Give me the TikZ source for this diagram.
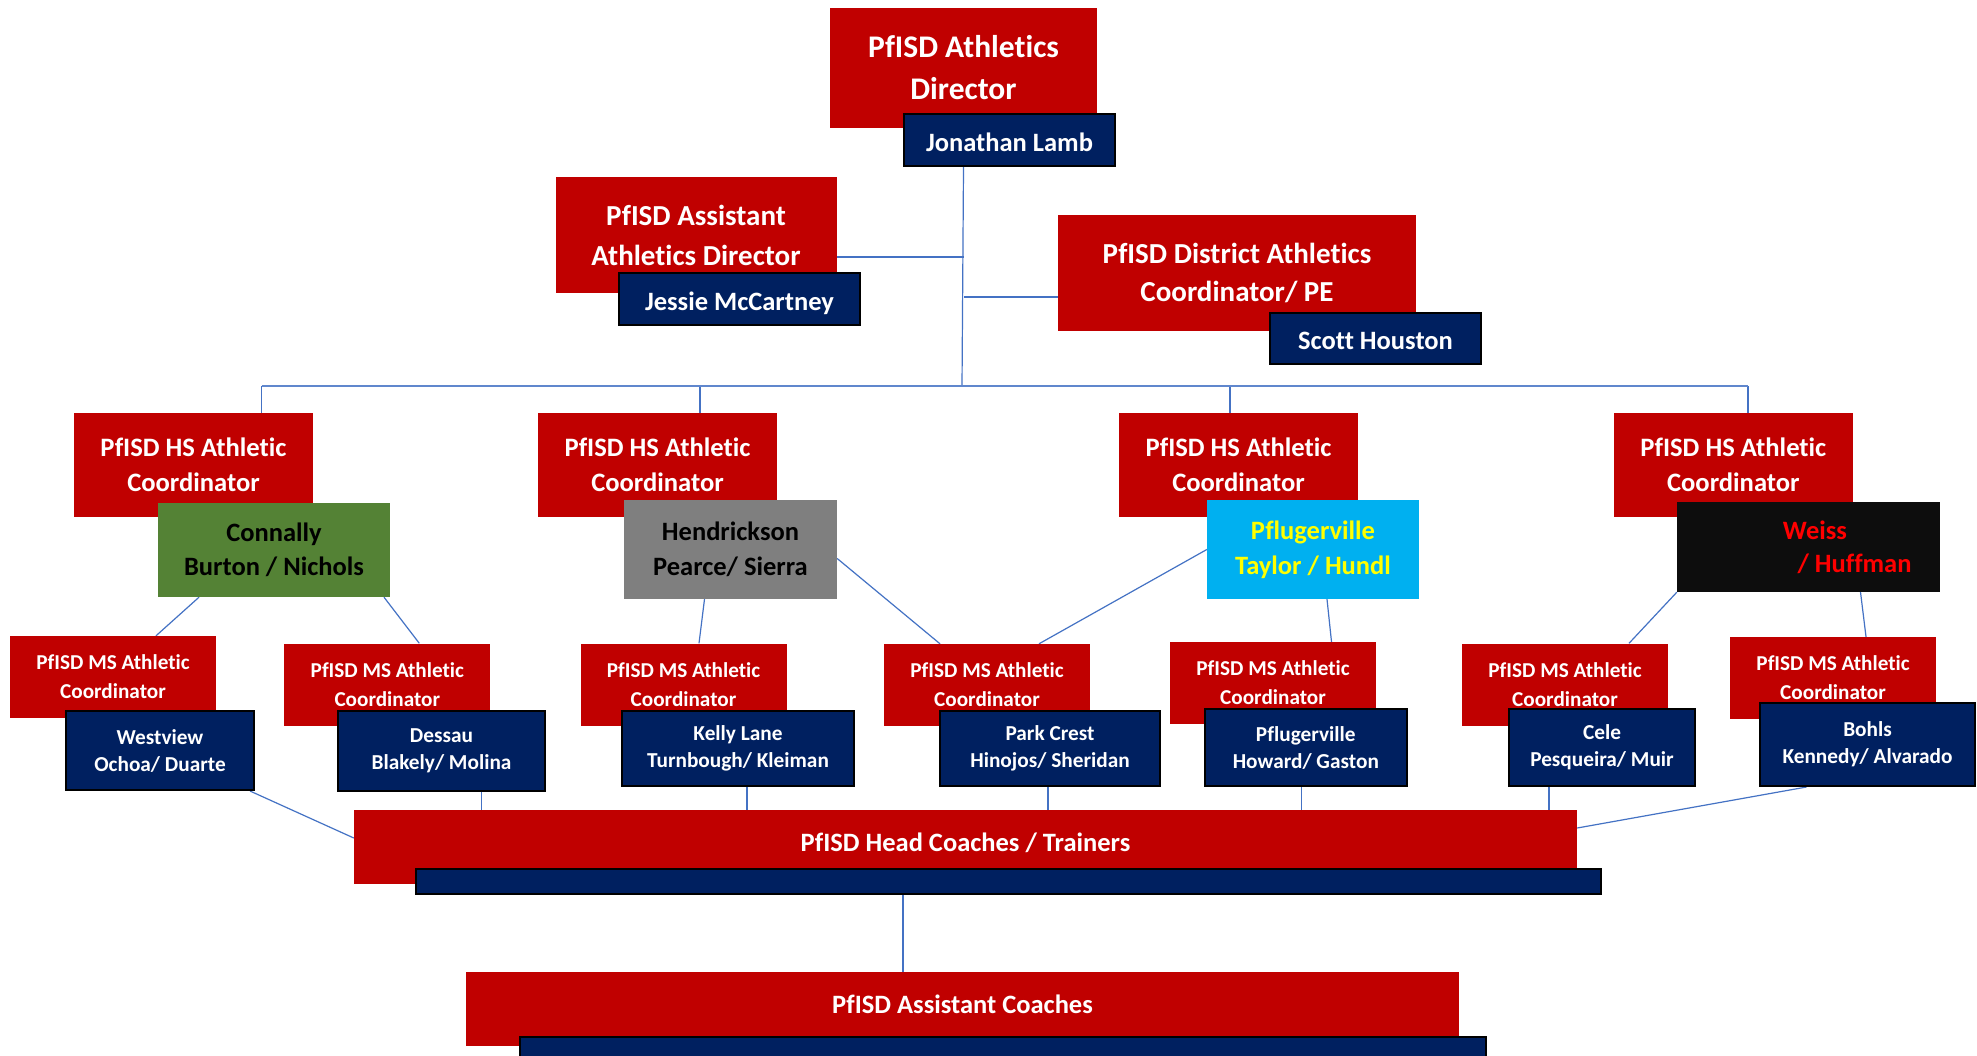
\documentclass[tikz,border=0pt]{standalone}
\usepackage{fontspec}
\setmainfont{Carlito}[Ligatures=NoCommon]
\usepackage{xcolor}
\usetikzlibrary{backgrounds}
\definecolor{pfred}{HTML}{C00000}
\definecolor{pfnavy}{HTML}{002060}
\definecolor{pfgreen}{HTML}{548235}
\definecolor{pfgray}{HTML}{7F7F7F}
\definecolor{pfcyan}{HTML}{00B0F0}
\definecolor{pfblack}{HTML}{0D0D0D}
\definecolor{pfline}{HTML}{4472C4}
\definecolor{pfyellow}{HTML}{FFFF00}
\definecolor{pftext}{HTML}{FF0000}
\tikzset{
	box/.style={rectangle, inner sep=0pt, align=center},
	wh/.style 2 args={minimum width=#1, minimum height=#2},
	sz/.style 2 args={font=\bfseries\fontsize{#1}{#2}\selectfont},
	redbox/.style={box, fill=pfred, text=white},
	navybox/.style={box, fill=pfnavy, draw=black, line width=2pt, text=white},
	nameline/.style={text height=22pt, text depth=0pt},
	wideline/.style={text height=14pt, text depth=6pt},
	hsbox/.style={redbox, wh={239pt}{104pt}, sz={26.6}{35}},
	msbox/.style={redbox, wh={206pt}{82pt}, sz={21.2}{29}},
	msnavy/.style={navybox, sz={21.3}{27}},
	conn/.style={draw=pfline, line width=1.2pt},
	bus/.style={draw=pfline!85, line width=2pt},
}
\begin{document}
\begin{tikzpicture}[x=1pt, y=-1pt]
		\useasboundingbox (0,0) rectangle (1977,1055);
		% 第一层
		\node[redbox, wh={267pt}{120pt}, sz={31.5}{42}] (dir) at (963.5,68) {PfISD Athletics\\Director};
		\node[navybox, nameline, wh={211pt}{52pt}, sz={26.5}{32}] (lamb) at (1009.5,140) {Jonathan Lamb};
		\node[redbox, wh={281pt}{116pt}, sz={29}{40}] (asst) at (696,235) {PfISD Assistant\\Athletics Director};
		\node[navybox, nameline, wh={241pt}{52pt}, sz={26.5}{32}] (jessie) at (739.5,299) {Jessie McCartney};
		\node[redbox, wh={358pt}{116pt}, sz={29}{38}] (dist) at (1237,273) {PfISD District Athletics\\Coordinator/ PE};
		\node[navybox, nameline, wh={211pt}{51pt}, sz={26.5}{32}] (scott) at (1375.5,338.5) {Scott Houston};
		% 高中
		\foreach \n/\x in {hsa/193.5, hsb/657.5, hsc/1238.5, hsd/1733.3}
			\node[hsbox] (\n) at (\x,465) {PfISD HS Athletic\\Coordinator};
		\node[box, fill=pfgreen, text=black, wh={232pt}{94pt}, sz={26.5}{34}] (connally) at (274,550) {Connally\\Burton / Nichols};
		\node[box, fill=pfgray, text=black, wh={213pt}{99pt}, sz={26.5}{35}] (hendrickson) at (730.5,549.5) {Hendrickson\\Pearce/ Sierra};
		\node[box, fill=pfcyan, text=pfyellow, wh={212pt}{99pt}, sz={26.5}{35}] (pflug) at (1313,549.5) {Pflugerville\\Taylor / Hundl};
		\node[box, fill=pfblack, text=pftext, wh={263pt}{90pt}, sz={26.5}{33}] (weiss) at (1808.5,547) {\hspace*{13pt}Weiss\\\hspace*{92pt}/ Huffman};
		% 初中
		\foreach \n/\x/\y in {msa/113/677, msb/387.3/684.5, msc/683.5/684.5, msd/987/685, mse/1273/683, msf/1565/684.5, msg/1833/678}
			\node[msbox] (\n) at (\x,\y) {PfISD MS Athletic\\Coordinator};
		\node[msnavy, wh={188pt}{79pt}] (westview) at (160,750.5) {Westview\\Ochoa/ Duarte};
		\node[msnavy, wh={207pt}{80pt}] (dessau) at (441.5,751) {Dessau\\Blakely/ Molina};
		\node[msnavy, wh={232pt}{75pt}] (kelly) at (738,748.5) {Kelly Lane\\Turnbough/ Kleiman};
		\node[msnavy, wh={220pt}{75pt}] (parkcrest) at (1050,748.5) {Park Crest\\Hinojos/ Sheridan};
		\node[msnavy, wh={202pt}{77pt}] (pflugms) at (1305.8,747.5) {Pflugerville\\Howard/ Gaston};
		\node[msnavy, wh={185.5pt}{77pt}] (cele) at (1602,747.5) {Cele\\Pesqueira/ Muir};
		\node[msnavy, wh={215pt}{83pt}] (bohls) at (1867.5,744.5) {Bohls\\Kennedy/ Alvarado};
		% 教练
		\node[redbox, wideline, wh={1223pt}{74pt}, sz={26.5}{32}] (head) at (965.5,847) {PfISD Head Coaches / Trainers};
		\node[navybox, wh={1185pt}{25pt}] (headbar) at (1008.5,881.5) {};
		\node[redbox, wideline, wh={993pt}{74pt}, sz={26.5}{32}] (asstc) at (962.5,1009) {PfISD Assistant Coaches};
		\node[navybox, wh={966pt}{33pt}] (asstbar) at (1003,1053.5) {};
		% 连线
		\begin{scope}[on background layer]
			\fill[white] (0,0) rectangle (1977,1055);
			\coordinate (spinetop) at (lamb.south -| dir.south);
			\coordinate (spinebot) at (962,386);
			\draw[conn] (spinetop) -- (spinebot);
			\path ([yshift=-22pt]asst.east) coordinate (asstj);
			\draw[conn] (asstj) -- (asstj -| spinetop);
			\path ([yshift=-24pt]dist.west) coordinate (distj);
			\draw[conn] (distj) -- (distj -| spinetop);
			\foreach \n/\s in {hsa/68, hsb/42.5, hsc/-8.5, hsd/14.7} {
				\path ([xshift=\s pt]\n.north) coordinate (\n-top);
				\draw[conn] (\n-top) -- (\n-top |- spinebot);
			}
			\draw[bus] (hsa-top |- spinebot) -- (hsd-top |- spinebot);
			\draw[conn] ([xshift=-75pt]connally.south) -- ([xshift=43pt]msa.north);
			\draw[conn] ([xshift=110pt]connally.south) -- ([xshift=32pt]msb.north);
			\draw[conn] ([xshift=-26pt]hendrickson.south) -- ([xshift=15.5pt]msc.north);
			\draw[conn] ([yshift=-9pt]hendrickson.east) -- ([xshift=-47pt]msd.north);
			\draw[conn] (pflug.west) -- ([xshift=52pt]msd.north);
			\draw[conn] ([xshift=14pt]pflug.south) -- ([xshift=58.5pt]mse.north);
			\draw[conn] (weiss.south west) -- ([xshift=64pt]msf.north);
			\draw[conn] ([xshift=52pt]weiss.south) -- ([xshift=33pt]msg.north);
			\draw[conn] ([xshift=90pt]westview.south) -- ([yshift=9pt]head.west);
			\foreach \n/\s in {dessau/40, kelly/9, parkcrest/-2, pflugms/-4, cele/-53} {
				\path ([xshift=\s pt]\n.south) coordinate (\n-bot);
				\draw[conn] (\n-bot) -- (\n-bot |- head.north);
			}
			\draw[conn] ([xshift=-61pt]bohls.south) -- ([yshift=19pt]head.east);
			\path ([xshift=-105.5pt]headbar.south) coordinate (barj);
			\draw[conn] (barj) -- (barj |- asstc.north);
		\end{scope}
	\end{tikzpicture}
\end{document}
